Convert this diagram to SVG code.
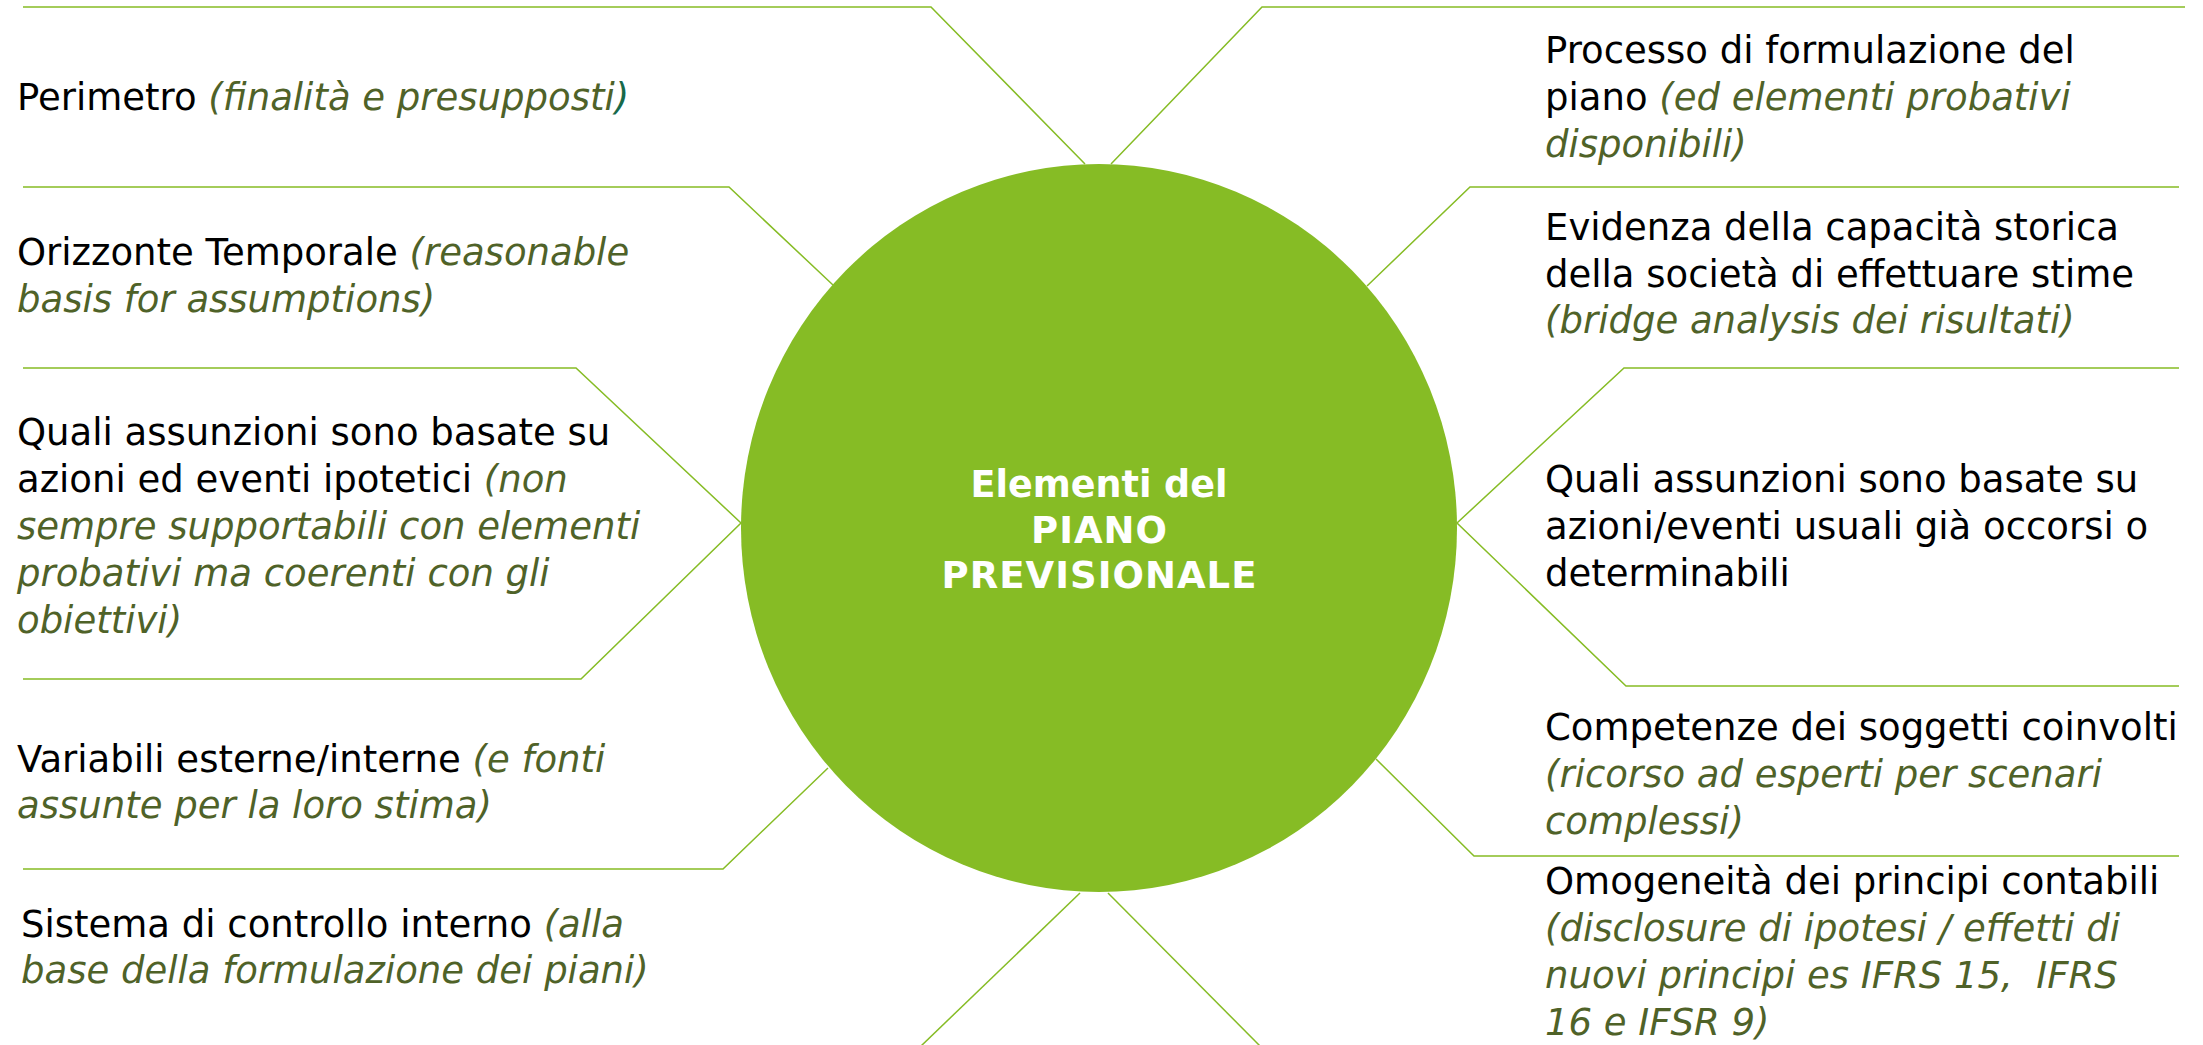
<svg xmlns="http://www.w3.org/2000/svg" width="2203" height="1045" viewBox="0 0 2203 1045">
  <style>
    .t { font-family: "DejaVu Sans", Verdana, "Liberation Sans", sans-serif; font-size: 37px; fill: #000000; }
    .n { fill: #4F6228; font-style: italic; }
    .p { fill: #17694A; font-style: italic; }
    .title { font-family: "DejaVu Sans", Verdana, "Liberation Sans", sans-serif; font-size: 37px; font-weight: bold; fill: #FFFFFF; text-anchor: middle; }
    .link { fill: none; stroke: #86BC25; stroke-width: 1.5; stroke-linejoin: miter; }
  </style>
  <rect width="2203" height="1045" fill="#FFFFFF"/>

  <!-- connectors: bracket lines from each topic to the central disc -->
  <g id="connectors">
    <polyline class="link" points="23,7 931,7 1085,164"/>
    <polyline class="link" points="2185,7 1262,7 1111,164"/>
    <polyline class="link" points="23,187 729,187 833,285"/>
    <polyline class="link" points="2179,187 1470,187 1367,286"/>
    <polyline class="link" points="23,368 576,368 741,523 581,679 23,679"/>
    <polyline class="link" points="2179,368 1624,368 1457,523 1626,686 2179,686"/>
    <polyline class="link" points="23,869 723,869 828,768"/>
    <polyline class="link" points="1376,759 1474,856 2179,856"/>
    <line class="link" x1="1080" y1="893" x2="920" y2="1047"/>
    <line class="link" x1="1108" y1="893" x2="1261" y2="1047"/>
  </g>

  <!-- central disc -->
  <g id="center">
    <ellipse cx="1099" cy="528" rx="358" ry="364" fill="#86BC25"/>
    <text class="title" x="1099" y="497" textLength="257" lengthAdjust="spacingAndGlyphs">Elementi del</text>
    <text class="title" x="1099" y="543" textLength="136" lengthAdjust="spacing">PIANO</text>
    <text class="title" x="1099" y="588" textLength="315" lengthAdjust="spacing">PREVISIONALE</text>
  </g>

  <!-- left column -->
  <g id="perimetro">
    <text class="t" x="17" y="110">Perimetro <tspan class="n">(finalità e presupposti</tspan><tspan class="p">)</tspan></text>
  </g>
  <g id="orizzonte">
    <text class="t" x="17" y="265">Orizzonte Temporale <tspan class="n">(reasonable</tspan></text>
    <text class="t n" x="17" y="312">basis for assumptions)</text>
  </g>
  <g id="assunzioni-ipotetiche">
    <text class="t" x="17" y="445">Quali assunzioni sono basate su</text>
    <text class="t" x="17" y="492">azioni ed eventi ipotetici <tspan class="n">(non</tspan></text>
    <text class="t n" x="17" y="539">sempre supportabili con elementi</text>
    <text class="t n" x="17" y="586">probativi ma coerenti con gli</text>
    <text class="t n" x="17" y="633">obiettivi)</text>
  </g>
  <g id="variabili">
    <text class="t" x="17" y="772">Variabili esterne/interne <tspan class="n">(e fonti</tspan></text>
    <text class="t n" x="17" y="818">assunte per la loro stima)</text>
  </g>
  <g id="controllo-interno">
    <text class="t" x="21" y="937">Sistema di controllo interno <tspan class="n">(alla</tspan></text>
    <text class="t n" x="21" y="983">base della formulazione dei piani)</text>
  </g>

  <!-- right column -->
  <g id="processo">
    <text class="t" x="1545" y="63">Processo di formulazione del</text>
    <text class="t" x="1545" y="110">piano <tspan class="n">(ed elementi probativi</tspan></text>
    <text class="t n" x="1545" y="157">disponibili)</text>
  </g>
  <g id="evidenza">
    <text class="t" x="1545" y="240">Evidenza della capacità storica</text>
    <text class="t" x="1545" y="287">della società di effettuare stime</text>
    <text class="t n" x="1545" y="333">(bridge analysis dei risultati)</text>
  </g>
  <g id="assunzioni-usuali">
    <text class="t" x="1545" y="492">Quali assunzioni sono basate su</text>
    <text class="t" x="1545" y="539">azioni/eventi usuali già occorsi o</text>
    <text class="t" x="1545" y="586">determinabili</text>
  </g>
  <g id="competenze">
    <text class="t" x="1545" y="740">Competenze dei soggetti coinvolti</text>
    <text class="t n" x="1545" y="787">(ricorso ad esperti per scenari</text>
    <text class="t n" x="1545" y="834">complessi)</text>
  </g>
  <g id="omogeneita">
    <text class="t" x="1545" y="894">Omogeneità dei principi contabili</text>
    <text class="t n" x="1545" y="941">(disclosure di ipotesi / effetti di</text>
    <text class="t n" x="1545" y="988" xml:space="preserve">nuovi principi es IFRS 15,  IFRS</text>
    <text class="t n" x="1545" y="1035">16 e IFSR 9)</text>
  </g>
</svg>
